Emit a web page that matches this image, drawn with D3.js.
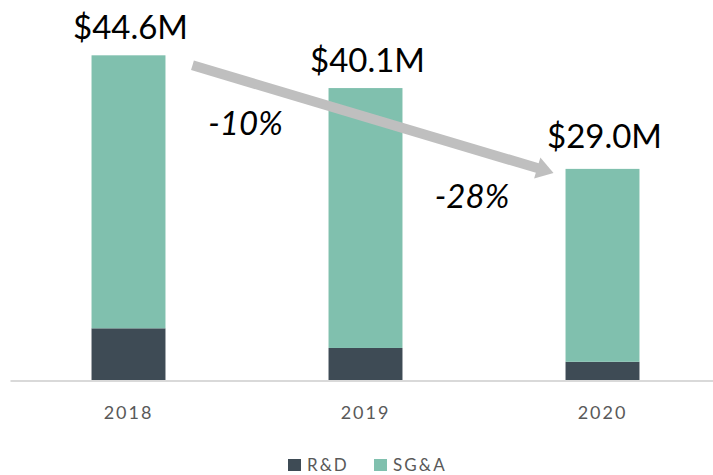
<!DOCTYPE html>
<html>
<head>
<meta charset="utf-8">
<script src="https://cdn.jsdelivr.net/npm/d3@7"></script>
<style>
  body { margin: 0; background: #fff; }
  svg { display: block; font-family: Lato, "Open Sans", sans-serif; }
</style>
</head>
<body>
<div id="chart"></div>
<script>
// 1: DATA
const years = ["2018", "2019", "2020"];
const series = ["R&D", "SG&A"];
const rnd = [7.1, 4.4, 2.5];
const sga = [37.5, 35.7, 26.5];
const totalLabels = ["$44.6M", "$40.1M", "$29.0M"];
const changeLabels = ["-10%", "-28%"];

const width = 713;
const height = 475;
const colors = { "R&D": "#3e4b55", "SG&A": "#80c0ae" };

const svg = d3.select("#chart")
    .append("svg")
    .attr("width", width)
    .attr("height", height);

// 2: SCALES
const x = d3.scaleBand()
    .domain(years)
    .range([10, 721])
    .paddingInner(0.688)
    .paddingOuter(0.344);

const y = d3.scaleLinear()
    .domain([0, 50])
    .range([380, 16]);

const rows = years.map((yr, i) => ({ year: yr, "R&D": rnd[i], "SG&A": sga[i] }));
const stacked = d3.stack().keys(series)(rows);

// 3: BARS
svg.append("g")
    .selectAll("g")
    .data(stacked)
    .join("g")
    .attr("fill", d => colors[d.key])
    .selectAll("rect")
    .data(d => d)
    .join("rect")
    .attr("x", d => x(d.data.year))
    .attr("y", d => y(d[1]))
    .attr("width", x.bandwidth())
    .attr("height", d => y(d[0]) - y(d[1]));

// 4: AXIS
const xAxis = svg.append("g")
    .attr("transform", `translate(0, ${y(0) + 0.5})`)
    .call(d3.axisBottom(x).tickSize(0).tickSizeOuter(0).tickPadding(26));

xAxis.select(".domain")
    .attr("stroke", "#d9d9d9")
    .attr("stroke-width", 2);

xAxis.selectAll("text")
    .attr("font-family", "Lato, sans-serif")
    .attr("font-size", 18)
    .attr("letter-spacing", 2)
    .attr("fill", "#595959");

// 5: TOTAL LABELS
const totals = rows.map(d => d["R&D"] + d["SG&A"]);
const labelGap = [16, 16, 21];

svg.selectAll(".total")
    .data(totalLabels)
    .join("text")
    .attr("class", "total")
    .attr("x", (d, i) => x(years[i]) + x.bandwidth() / 2 + 2)
    .attr("y", (d, i) => y(totals[i]) - labelGap[i])
    .attr("text-anchor", "middle")
    .attr("font-size", 33)
    .attr("fill", "#000")
    .text(d => d);

// 6: TREND ARROW
const x0 = x(years[0]) + x.bandwidth() + 27;
const y0 = y(totals[0]) + 10;
const x1 = x(years[2]) - 12;
const y1 = y(totals[2]) + 4;
const len = Math.hypot(x1 - x0, y1 - y0);
const ux = (x1 - x0) / len, uy = (y1 - y0) / len;
const headL = 17, headW = 11;
const bx = x1 - ux * headL, by = y1 - uy * headL;

svg.append("line")
    .attr("x1", x0)
    .attr("y1", y0)
    .attr("x2", bx + ux)
    .attr("y2", by + uy)
    .attr("stroke", "#bfbfbf")
    .attr("stroke-width", 10);

svg.append("path")
    .attr("d", `M${x1},${y1}L${bx - uy * headW},${by + ux * headW}L${bx + uy * headW},${by - ux * headW}Z`)
    .attr("fill", "#bfbfbf");

// 7: CHANGE LABELS
const changeX = [245.5, 472];
const changeY = [135, 208];

svg.selectAll(".change")
    .data(changeLabels)
    .join("text")
    .attr("class", "change")
    .attr("x", (d, i) => changeX[i])
    .attr("y", (d, i) => changeY[i])
    .attr("text-anchor", "middle")
    .attr("font-size", 33)
    .attr("font-style", "italic")
    .attr("fill", "#000")
    .text(d => d);

// 8: LEGEND
const legendX = [288, 374];
const legend = svg.selectAll(".legend")
    .data(series)
    .join("g")
    .attr("class", "legend")
    .attr("transform", (d, i) => `translate(${legendX[i]}, 459)`);

legend.append("rect")
    .attr("width", 13)
    .attr("height", 12)
    .attr("fill", d => colors[d]);

legend.append("text")
    .attr("x", 19)
    .attr("y", 12)
    .attr("font-size", 17)
    .attr("letter-spacing", 2)
    .attr("fill", "#595959")
    .text(d => d);
</script>
</body>
</html>
